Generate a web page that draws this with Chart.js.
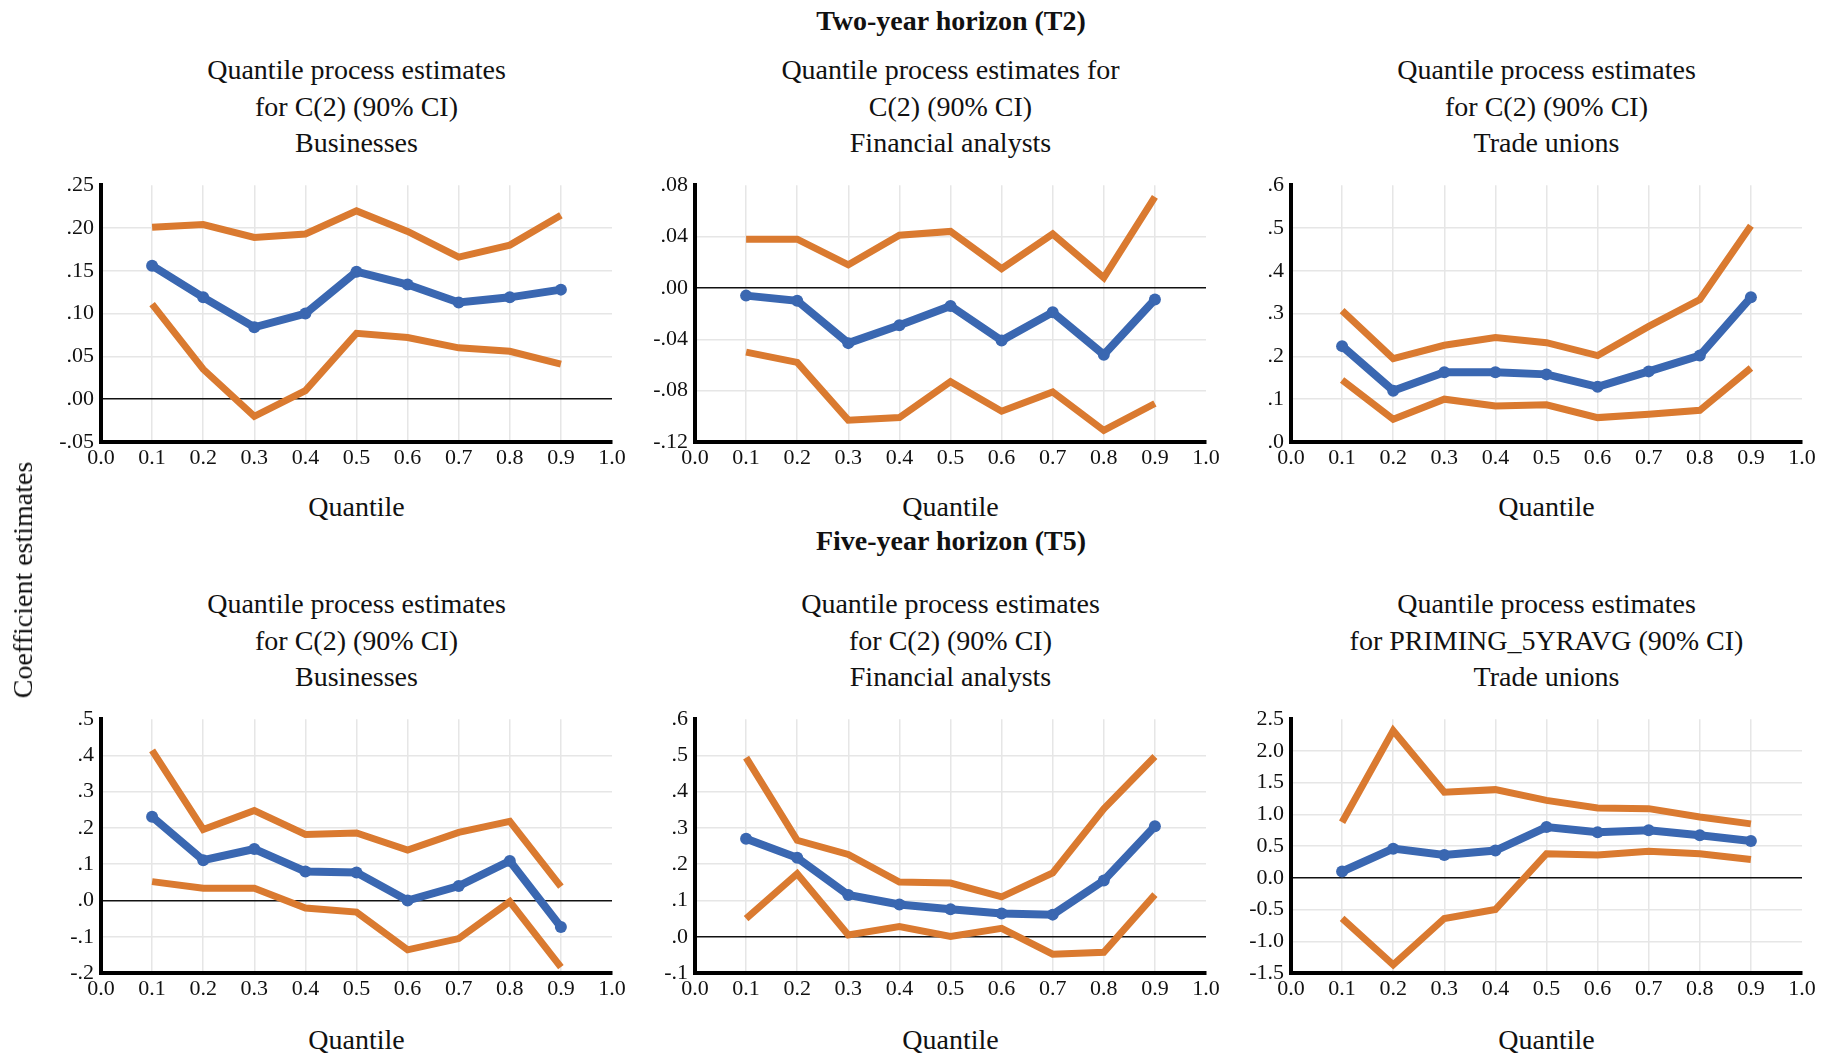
<!DOCTYPE html>
<html>
<head>
<meta charset="utf-8">
<script src="https://cdn.jsdelivr.net/npm/chart.js@4.4.1/dist/chart.umd.min.js"></script>
<style>
  body { margin: 0; background: #fff; width: 1830px; height: 1056px; overflow: hidden; position: relative; }
  .txt { position: absolute; font-family: "Liberation Serif", Tinos, "DejaVu Serif", serif; font-size: 28px; color: #111; white-space: nowrap; transform: translate(-50%, -50%); }
  canvas { position: absolute; }
</style>
</head>
<body>
<script>
// quantiles on the x axis
const quantiles = [0.1, 0.2, 0.3, 0.4, 0.5, 0.6, 0.7, 0.8, 0.9];
const xTickLabels = ['0.0', '0.1', '0.2', '0.3', '0.4', '0.5', '0.6', '0.7', '0.8', '0.9', '1.0'];

// Two-year horizon, businesses
const t2BusUpper = [0.201, 0.204, 0.189, 0.193, 0.220, 0.196, 0.166, 0.180, 0.215];
const t2BusEst   = [0.156, 0.119, 0.084, 0.100, 0.149, 0.134, 0.113, 0.119, 0.128];
const t2BusLower = [0.111, 0.035, -0.020, 0.010, 0.077, 0.072, 0.060, 0.056, 0.041];
const t2BusTicks = ['-.05', '.00', '.05', '.10', '.15', '.20', '.25'];

// Two-year horizon, financial analysts
const t2FinUpper = [0.038, 0.038, 0.018, 0.041, 0.044, 0.015, 0.042, 0.008, 0.071];
const t2FinEst   = [-0.006, -0.010, -0.043, -0.029, -0.014, -0.041, -0.019, -0.052, -0.009];
const t2FinLower = [-0.050, -0.058, -0.103, -0.101, -0.073, -0.096, -0.081, -0.111, -0.090];
const t2FinTicks = ['-.12', '-.08', '-.04', '.00', '.04', '.08'];

// Two-year horizon, trade unions
const t2UniUpper = [0.307, 0.195, 0.226, 0.244, 0.232, 0.202, 0.270, 0.333, 0.505];
const t2UniEst   = [0.224, 0.120, 0.163, 0.163, 0.158, 0.129, 0.165, 0.202, 0.338];
const t2UniLower = [0.145, 0.053, 0.100, 0.084, 0.087, 0.057, 0.065, 0.074, 0.173];
const t2UniTicks = ['.0', '.1', '.2', '.3', '.4', '.5', '.6'];

// Five-year horizon, businesses
const t5BusUpper = [0.414, 0.196, 0.248, 0.182, 0.186, 0.139, 0.188, 0.218, 0.038];
const t5BusEst   = [0.231, 0.111, 0.142, 0.080, 0.077, 0.000, 0.040, 0.109, -0.073];
const t5BusLower = [0.052, 0.034, 0.034, -0.021, -0.032, -0.136, -0.105, -0.003, -0.184];
const t5BusTicks = ['-.2', '-.1', '.0', '.1', '.2', '.3', '.4', '.5'];

// Five-year horizon, financial analysts
const t5FinUpper = [0.494, 0.266, 0.227, 0.151, 0.148, 0.110, 0.176, 0.353, 0.497];
const t5FinEst   = [0.270, 0.218, 0.115, 0.089, 0.076, 0.064, 0.061, 0.155, 0.305];
const t5FinLower = [0.050, 0.174, 0.005, 0.028, 0.001, 0.023, -0.048, -0.043, 0.116];
const t5FinTicks = ['-.1', '.0', '.1', '.2', '.3', '.4', '.5', '.6'];

// Five-year horizon, trade unions
const t5UniUpper = [0.875, 2.32, 1.35, 1.39, 1.22, 1.10, 1.09, 0.96, 0.85];
const t5UniEst   = [0.10, 0.46, 0.36, 0.43, 0.80, 0.72, 0.75, 0.67, 0.58];
const t5UniLower = [-0.64, -1.37, -0.64, -0.50, 0.38, 0.36, 0.42, 0.38, 0.29];
const t5UniTicks = ['-1.5', '-1.0', '-0.5', '0.0', '0.5', '1.0', '1.5', '2.0', '2.5'];

const ORANGE = '#DA7A30';
const BLUE = '#3A67B1';
const FONT = '"Liberation Serif", Tinos, "DejaVu Serif", serif';

function placeText(text, x, y, opts) {
    opts = opts || {};
    var d = document.createElement('div');
    d.className = 'txt';
    d.textContent = text;
    d.style.left = x + 'px';
    d.style.top = y + 'px';
    if (opts.bold) d.style.fontWeight = 'bold';
    if (opts.rotate) d.style.transform = 'translate(-50%, -50%) rotate(-90deg)';
    document.body.appendChild(d);
}

function toPoints(values) {
    return values.map(function (v, i) { return { x: quantiles[i], y: v }; });
}

// plot area is given in page pixels; canvas gets room for the tick labels
function makePanel(plotLeft, plotTop, plotW, plotH, yLabels, upper, est, lower) {
    const padL = 80, padT = 20, padR = 34, padB = 44;
    var canvas = document.createElement('canvas');
    canvas.width = padL + plotW + padR;
    canvas.height = padT + plotH + padB;
    canvas.style.left = (plotLeft - padL) + 'px';
    canvas.style.top = (plotTop - padT) + 'px';
    document.body.appendChild(canvas);

    const yVals = yLabels.map(function (l) { return parseFloat(l); });
    const xVals = xTickLabels.map(function (l) { return parseFloat(l); });

    let config = {
        type: 'line',
        data: {
            datasets: [{
                data: toPoints(est),
                borderColor: BLUE,
                backgroundColor: BLUE,
                borderWidth: 8,
                pointRadius: 6,
                pointBorderWidth: 0,
                clip: false
            }, {
                data: toPoints(upper),
                borderColor: ORANGE,
                borderWidth: 7,
                pointRadius: 0,
                clip: false
            }, {
                data: toPoints(lower),
                borderColor: ORANGE,
                borderWidth: 7,
                pointRadius: 0,
                clip: false
            }]
        },
        options: {
            responsive: false,
            animation: false,
            devicePixelRatio: 1,
            layout: { padding: { left: 0, top: padT, right: padR, bottom: 0 } },
            plugins: { legend: { display: false }, tooltip: { enabled: false } },
            scales: {
                x: {
                    type: 'linear',
                    min: 0,
                    max: 1,
                    afterBuildTicks: function (scale) {
                        scale.ticks = xVals.map(function (v) { return { value: v }; });
                    },
                    afterFit: function (scale) { scale.height = padB; },
                    ticks: {
                        autoSkip: false,
                        maxRotation: 0,
                        padding: 3,
                        color: '#111',
                        font: { family: FONT, size: 22 },
                        callback: function (value, index) { return xTickLabels[index]; }
                    },
                    grid: {
                        drawTicks: false,
                        lineWidth: 1.5,
                        color: function (ctx) {
                            if (ctx.index === 0 || ctx.index === xVals.length - 1) return 'rgba(0,0,0,0)';
                            return '#e6e6e6';
                        }
                    },
                    border: { display: true, color: '#000', width: 4 }
                },
                y: {
                    type: 'linear',
                    min: yVals[0],
                    max: yVals[yVals.length - 1],
                    afterBuildTicks: function (scale) {
                        scale.ticks = yVals.map(function (v) { return { value: v }; });
                    },
                    afterFit: function (scale) { scale.width = padL; },
                    ticks: {
                        padding: 7,
                        color: '#111',
                        font: { family: FONT, size: 22 },
                        callback: function (value, index) { return yLabels[index]; }
                    },
                    grid: {
                        drawTicks: false,
                        lineWidth: 1.5,
                        color: function (ctx) {
                            if (ctx.index === yVals.length - 1) return 'rgba(0,0,0,0)';
                            if (Math.abs(ctx.tick.value) < 1e-9) return '#111';
                            return '#e6e6e6';
                        }
                    },
                    border: { display: true, color: '#000', width: 4 }
                }
            }
        }
    };

    return new Chart(canvas, config);
}

// panel layout (page pixels)
const colLeft = [101, 695, 1291];
const plotW = 511;
const rowTop = [185, 719];
const rowH = [257, 254];

makePanel(colLeft[0], rowTop[0], plotW, rowH[0], t2BusTicks, t2BusUpper, t2BusEst, t2BusLower);
makePanel(colLeft[1], rowTop[0], plotW, rowH[0], t2FinTicks, t2FinUpper, t2FinEst, t2FinLower);
makePanel(colLeft[2], rowTop[0], plotW, rowH[0], t2UniTicks, t2UniUpper, t2UniEst, t2UniLower);
makePanel(colLeft[0], rowTop[1], plotW, rowH[1], t5BusTicks, t5BusUpper, t5BusEst, t5BusLower);
makePanel(colLeft[1], rowTop[1], plotW, rowH[1], t5FinTicks, t5FinUpper, t5FinEst, t5FinLower);
makePanel(colLeft[2], rowTop[1], plotW, rowH[1], t5UniTicks, t5UniUpper, t5UniEst, t5UniLower);

// titles and labels
placeText('Two-year horizon (T2)', 951, 21, { bold: true });
placeText('Five-year horizon (T5)', 951, 541, { bold: true });
placeText('Coefficient estimates', 23, 580, { rotate: true });

var topTitles = [
    ['Quantile process estimates', 'for C(2) (90% CI)', 'Businesses'],
    ['Quantile process estimates for', 'C(2) (90% CI)', 'Financial analysts'],
    ['Quantile process estimates', 'for C(2) (90% CI)', 'Trade unions']
];
var bottomTitles = [
    ['Quantile process estimates', 'for C(2) (90% CI)', 'Businesses'],
    ['Quantile process estimates', 'for C(2) (90% CI)', 'Financial analysts'],
    ['Quantile process estimates', 'for PRIMING_5YRAVG (90% CI)', 'Trade unions']
];
for (var c = 0; c < 3; c++) {
    var cx = colLeft[c] + plotW / 2;
    for (var l = 0; l < 3; l++) {
        placeText(topTitles[c][l], cx, 70 + l * 36.7);
        placeText(bottomTitles[c][l], cx, 604 + l * 36.7);
    }
    placeText('Quantile', cx, 507);
    placeText('Quantile', cx, 1040);
}
</script>
</body>
</html>
